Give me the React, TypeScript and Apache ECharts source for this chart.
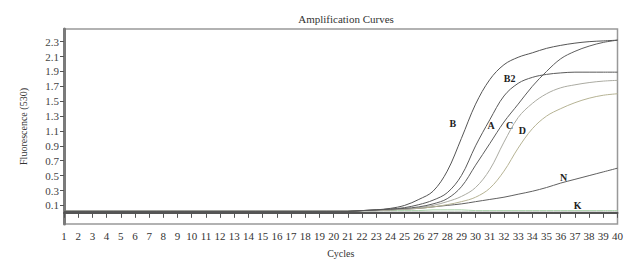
import React, { useEffect, useRef } from "react";
import * as echarts from "echarts";

const cycles = [
  1, 2, 3, 4, 5, 6, 7, 8, 9, 10, 11, 12, 13, 14, 15, 16, 17, 18, 19, 20,
  21, 22, 23, 24, 25, 26, 27, 28, 29, 30, 31, 32, 33, 34, 35, 36, 37, 38, 39, 40,
];

const yTicks = [0.1, 0.3, 0.5, 0.7, 0.9, 1.1, 1.3, 1.5, 1.7, 1.9, 2.1, 2.3];

// baseline phase (cycles 1-21)
const base = [
  0.02, 0.02, 0.02, 0.02, 0.02, 0.02, 0.02, 0.02, 0.02, 0.02, 0.02,
  0.02, 0.02, 0.02, 0.02, 0.02, 0.02, 0.02, 0.02, 0.02, 0.02,
];

// cycles 22-40
const curveB = [0.03, 0.04, 0.06, 0.1, 0.18, 0.29, 0.56, 1.0, 1.46, 1.79, 1.99, 2.09, 2.15, 2.21, 2.25, 2.28, 2.3, 2.31, 2.32];
const curveB2 = [0.03, 0.04, 0.05, 0.07, 0.11, 0.17, 0.27, 0.5, 0.9, 1.25, 1.57, 1.74, 1.82, 1.86, 1.88, 1.89, 1.89, 1.89, 1.89];
const curveA = [0.03, 0.04, 0.05, 0.06, 0.08, 0.12, 0.19, 0.35, 0.64, 0.93, 1.22, 1.46, 1.7, 1.9, 2.07, 2.17, 2.24, 2.29, 2.32];
const curveC = [0.03, 0.03, 0.04, 0.05, 0.07, 0.1, 0.15, 0.22, 0.34, 0.58, 0.95, 1.28, 1.47, 1.6, 1.68, 1.72, 1.75, 1.77, 1.78];
const curveD = [0.03, 0.03, 0.04, 0.05, 0.06, 0.08, 0.11, 0.15, 0.21, 0.33, 0.56, 0.87, 1.13, 1.3, 1.4, 1.48, 1.54, 1.58, 1.6];
const curveN = [0.03, 0.03, 0.04, 0.05, 0.06, 0.08, 0.1, 0.12, 0.15, 0.18, 0.21, 0.25, 0.29, 0.34, 0.4, 0.45, 0.5, 0.55, 0.6];
const curveK = [0.02, 0.02, 0.02, 0.02, 0.02, 0.02, 0.02, 0.02, 0.02, 0.02, 0.02, 0.02, 0.02, 0.02, 0.02, 0.02, 0.02, 0.02, 0.02];
const curveG = [0.03, 0.03, 0.03, 0.03, 0.03, 0.04, 0.04, 0.04, 0.03, 0.03, 0.03, 0.03, 0.03, 0.03, 0.03, 0.03, 0.03, 0.03, 0.03];

const names = ["B", "B2", "A", "C", "D", "N", "K", "G"];
const tails = [curveB, curveB2, curveA, curveC, curveD, curveN, curveK, curveG];
const colors = ["#555555", "#5a5a5a", "#5e5e5e", "#ababa2", "#b6b394", "#606060", "#c8ccc8", "#a5d2a5"];

// label anchor points [cycle, value]
const labelPos: Record<string, [number, number]> = {
  B: [28.4, 1.2],
  B2: [32.4, 1.8],
  A: [31.1, 1.17],
  C: [32.4, 1.18],
  D: [33.3, 1.11],
  N: [36.2, 0.47],
  K: [37.2, 0.1],
};

const serif = "'Liberation Serif', 'DejaVu Serif', serif";

export default function App() {
  const ref = useRef<HTMLDivElement>(null);
  useEffect(() => {
    if (!ref.current) return;
    const chart = echarts.init(ref.current, undefined, { renderer: "svg" });
    const series: any[] = names.map((n, i) => {
      const vals = base.concat(tails[i]);
      const s: any = {
        name: n,
        type: "line",
        data: cycles.map((c, j) => [c, vals[j]]),
        showSymbol: false,
        smooth: 0.35,
        z: 10 - i,
        lineStyle: { color: colors[i], width: 1 },
      };
      if (labelPos[n]) {
        s.markPoint = {
          symbol: "circle",
          symbolSize: 0,
          data: [
            {
              coord: labelPos[n],
              label: {
                show: true,
                formatter: n,
                color: "#222",
                fontFamily: serif,
                fontWeight: "bold",
                fontSize: 10,
              },
            },
          ],
        };
      }
      return s;
    });
    chart.setOption({
      animation: false,
      backgroundColor: "#ffffff",
      title: {
        text: "Amplification Curves",
        left: 341,
        top: 8,
        textAlign: "center",
        textStyle: { fontFamily: serif, fontSize: 11, fontWeight: "normal", color: "#333" },
      },
      grid: {
        left: 64,
        right: 6,
        top: 29,
        bottom: 36,
        show: true,
        borderColor: "#999999",
        borderWidth: 1.5,
      },
      xAxis: {
        type: "value",
        min: 1,
        max: 40,
        interval: 1,
        name: "Cycles",
        nameLocation: "middle",
        nameGap: 24,
        nameTextStyle: { fontFamily: serif, fontSize: 10, color: "#333" },
        axisLine: { show: true, lineStyle: { color: "#555", width: 2 } },
        axisTick: { show: true, length: 5, lineStyle: { color: "#555" } },
        axisLabel: { fontFamily: serif, fontSize: 11, color: "#333", margin: 6, hideOverlap: false },
        splitLine: { show: false },
      },
      yAxis: {
        type: "value",
        min: -0.15,
        max: 2.47,
        name: "Fluorescence (530)",
        nameLocation: "middle",
        nameGap: 36,
        nameTextStyle: { fontFamily: serif, fontSize: 10, color: "#333" },
        axisLine: { show: true, lineStyle: { color: "#7a7a7a", width: 3 } },
        axisTick: { show: true, length: 4, customValues: yTicks, lineStyle: { color: "#555" } },
        axisLabel: {
          fontFamily: serif,
          fontSize: 11,
          color: "#444",
          margin: 5,
          customValues: yTicks,
          formatter: (v: number) => v.toFixed(1),
        },
        splitLine: { show: false },
      },
      series,
    });
    return () => chart.dispose();
  }, []);
  return (
    <div
      ref={ref}
      style={{ position: "fixed", left: 0, top: 0, width: 626, height: 263 }}
    />
  );
}
